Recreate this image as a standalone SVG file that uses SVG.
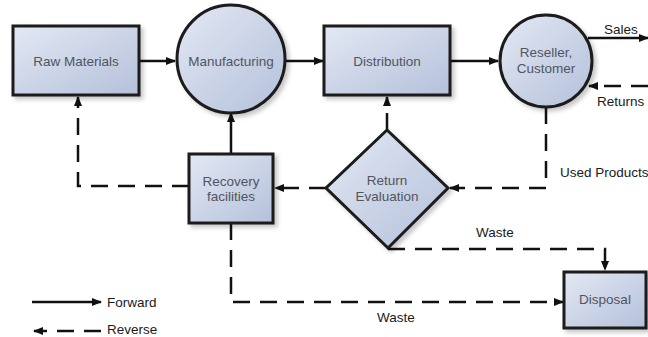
<svg xmlns="http://www.w3.org/2000/svg" width="648" height="337" viewBox="0 0 648 337">
<defs>
<linearGradient id="g" x1="0" y1="0" x2="1" y2="1">
<stop offset="0" stop-color="#e3e8f3"/>
<stop offset="1" stop-color="#b4c1db"/>
</linearGradient>
<filter id="sh" x="-20%" y="-20%" width="150%" height="150%">
<feDropShadow dx="3" dy="3" stdDeviation="2" flood-color="#000" flood-opacity="0.22"/>
</filter>
<marker id="ah" markerWidth="10" markerHeight="8" refX="9" refY="4" orient="auto" markerUnits="userSpaceOnUse">
<path d="M0,0 L10,4 L0,8 Z" fill="#111"/>
</marker>
</defs>
<style>
.node{fill:url(#g);stroke:#1a1a1a;stroke-width:3;filter:url(#sh)}
.lbl{font-family:"Liberation Sans",Arial,sans-serif;font-size:13.5px;fill:#505560;text-anchor:middle}
.txt{font-family:"Liberation Sans",Arial,sans-serif;font-size:13.5px;fill:#1a1a1a}
.f{fill:none;stroke:#111;stroke-width:2.5;marker-end:url(#ah)}
.r{fill:none;stroke:#111;stroke-width:2.5;stroke-dasharray:17 10;marker-end:url(#ah)}
</style>
<rect width="648" height="337" fill="#fff"/>
<g id="connectors">
<line class="f" x1="140" y1="61" x2="175" y2="61"/>
<line class="f" x1="286" y1="61" x2="323" y2="61"/>
<line class="f" x1="450" y1="61" x2="498" y2="61"/>
<line class="f" x1="231" y1="154" x2="231" y2="113"/>
<line class="f" x1="588" y1="38" x2="648" y2="38"/>
<path class="r" d="M648,86 L589,86"/>
<path class="r" d="M189,186 L78,186 L78,97"/>
<path class="r" d="M387,130 L387,97"/>
<path class="r" d="M546,107 L546,188 L450,188"/>
<path class="r" d="M326,188 L275,188"/>
<path class="r" d="M388,249 L605,249 L605,270"/>
<path class="r" d="M231,223 L231,302 L563,302"/>
<line class="f" x1="32" y1="302" x2="101" y2="302"/>
<path class="r" d="M101,331 L34,331"/>
</g>
<g id="raw-materials"><rect class="node" x="13" y="26" width="126" height="69"/><text class="lbl" x="76" y="66">Raw Materials</text></g>
<g id="manufacturing"><circle class="node" cx="231" cy="59" r="54"/><text class="lbl" x="231" y="66">Manufacturing</text></g>
<g id="distribution"><rect class="node" x="324" y="26" width="126" height="69"/><text class="lbl" x="387" y="66">Distribution</text></g>
<g id="reseller"><circle class="node" cx="546" cy="61" r="46"/><text class="lbl" x="546" y="57">Reseller,</text><text class="lbl" x="546" y="73">Customer</text></g>
<g id="recovery"><rect class="node" x="189" y="154" width="84" height="69"/><text class="lbl" x="231" y="186">Recovery</text><text class="lbl" x="231" y="201">facilities</text></g>
<g id="return-evaluation"><polygon class="node" points="387,130 448,188 388,248 326,188"/><text class="lbl" x="387" y="185">Return</text><text class="lbl" x="387" y="201">Evaluation</text></g>
<g id="disposal"><rect class="node" x="564" y="272" width="82" height="56"/><text class="lbl" x="605" y="304">Disposal</text></g>
<g id="labels">
<text class="txt" x="604" y="34">Sales</text>
<text class="txt" x="597" y="106">Returns</text>
<text class="txt" x="560" y="177">Used Products</text>
<text class="txt" x="476" y="237">Waste</text>
<text class="txt" x="377" y="322">Waste</text>
<text class="txt" x="107" y="307">Forward</text>
<text class="txt" x="107" y="334">Reverse</text>
</g>
</svg>
